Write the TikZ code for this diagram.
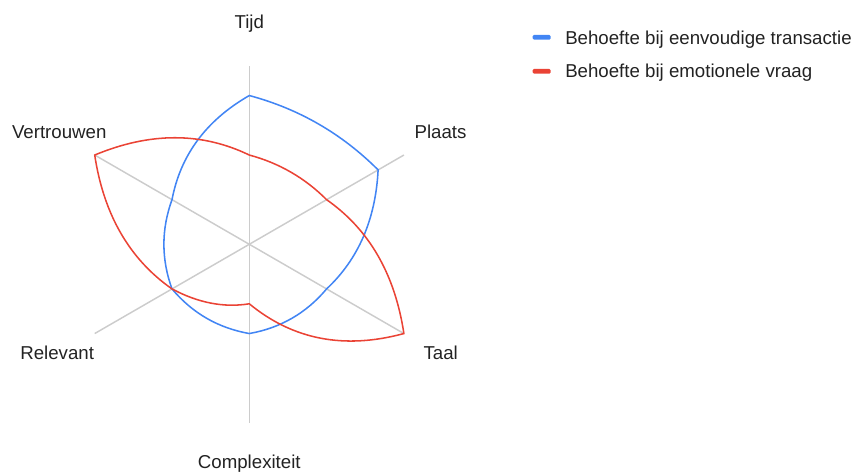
\documentclass[tikz,border=0pt]{standalone}
\usepackage{fontspec}
\setmainfont{Liberation Sans}
\usetikzlibrary{calc}
\definecolor{seriesblue}{HTML}{4285F4}
\definecolor{seriesred}{HTML}{EA4335}
\definecolor{axisgray}{HTML}{CCCCCC}
\definecolor{labeltext}{HTML}{222222}

\begin{document}
\begin{tikzpicture}[x=0.75pt,y=0.75pt,
  spoke/.style={draw=axisgray,line width=1.1pt},
  serie/.style={line width=1.15pt,line join=miter},
  axislabel/.style={font=\fontsize{14}{16}\selectfont,text=labeltext,inner sep=0pt},
  legendkey/.style={rounded corners=1pt,minimum width=13.5pt,minimum height=3.6pt,inner sep=0pt}]
\useasboundingbox (-249.3,-228.7) rectangle (606.7,244.3);

% spokes
\coordinate (O) at (0,0);
\foreach \a/\n in {90/t,30/p,-30/ta,-90/c,-150/r,150/v}
  \coordinate (ax-\n) at (\a:178.5);
\foreach \n in {t,p,ta,c,r,v}
  \draw[spoke] (O) -- (ax-\n);

% axis labels
\node[axislabel,anchor=base] (l-t) at (0,216) {Tijd};
\node[axislabel,anchor=base west] (l-p) at (165,105.6) {Plaats};
\node[axislabel,anchor=base west] (l-ta) at (174,-115.7) {Taal};
\node[axislabel,anchor=base] (l-c) at (0,-224) {Complexiteit};
\node[axislabel,anchor=base east] (l-r) at (-155,-115.7) {Relevant};
\node[axislabel,anchor=base east] (l-v) at (-142.6,105.6) {Vertrouwen};

% first series: data points and mid-angle control points
\coordinate (b-t)  at (90:148.75);
\coordinate (b-p)  at (30:148.75);
\coordinate (b-ta) at (-30:89.25);
\coordinate (b-c)  at (-90:89.25);
\coordinate (b-r)  at (-150:89.25);
\coordinate (b-v)  at (150:89.25);
\coordinate (bq1) at (60:148.75);
\coordinate (bq2) at (0:125);
\coordinate (bq3) at (-60:93.5);
\coordinate (bq4) at (-120:93.5);
\coordinate (bq5) at (180:93.5);
\coordinate (bq6) at (120:129);

% second series
\coordinate (r-t)  at (90:89.25);
\coordinate (r-p)  at (30:89.25);
\coordinate (r-ta) at (-30:178.5);
\coordinate (r-c)  at (-90:59.5);
\coordinate (r-r)  at (-150:89.25);
\coordinate (r-v)  at (150:178.5);
\coordinate (rq1) at (60:89.25);
\coordinate (rq2) at (0:141.1);
\coordinate (rq3) at (-60:131);
\coordinate (rq4) at (-120:75.8);
\coordinate (rq5) at (180:141.1);
\coordinate (rq6) at (120:143);

\draw[serie,seriesblue]
  (b-t) .. controls ($(b-t)!2/3!(bq1)$) and ($(b-p)!2/3!(bq1)$) .. (b-p)
        .. controls ($(b-p)!2/3!(bq2)$) and ($(b-ta)!2/3!(bq2)$) .. (b-ta)
        .. controls ($(b-ta)!2/3!(bq3)$) and ($(b-c)!2/3!(bq3)$) .. (b-c)
        .. controls ($(b-c)!2/3!(bq4)$) and ($(b-r)!2/3!(bq4)$) .. (b-r)
        .. controls ($(b-r)!2/3!(bq5)$) and ($(b-v)!2/3!(bq5)$) .. (b-v)
        .. controls ($(b-v)!2/3!(bq6)$) and ($(b-t)!2/3!(bq6)$) .. cycle;

\draw[serie,seriesred]
  (r-t) .. controls ($(r-t)!2/3!(rq1)$) and ($(r-p)!2/3!(rq1)$) .. (r-p)
        .. controls ($(r-p)!2/3!(rq2)$) and ($(r-ta)!2/3!(rq2)$) .. (r-ta)
        .. controls ($(r-ta)!2/3!(rq3)$) and ($(r-c)!2/3!(rq3)$) .. (r-c)
        .. controls ($(r-c)!2/3!(rq4)$) and ($(r-r)!2/3!(rq4)$) .. (r-r)
        .. controls ($(r-r)!2/3!(rq5)$) and ($(r-v)!2/3!(rq5)$) .. (r-v)
        .. controls ($(r-v)!2/3!(rq6)$) and ($(r-t)!2/3!(rq6)$) .. cycle;

% legend
\node[legendkey,fill=seriesblue] (k-b) at (292.4,207) {};
\node[axislabel,anchor=base west] (k-bt) at (315.7,199.8) {Behoefte bij eenvoudige transactie};
\node[legendkey,fill=seriesred] (k-r) at (292.4,173) {};
\node[axislabel,anchor=base west] (k-rt) at (315.7,166.8) {Behoefte bij emotionele vraag};
\end{tikzpicture}
\end{document}
